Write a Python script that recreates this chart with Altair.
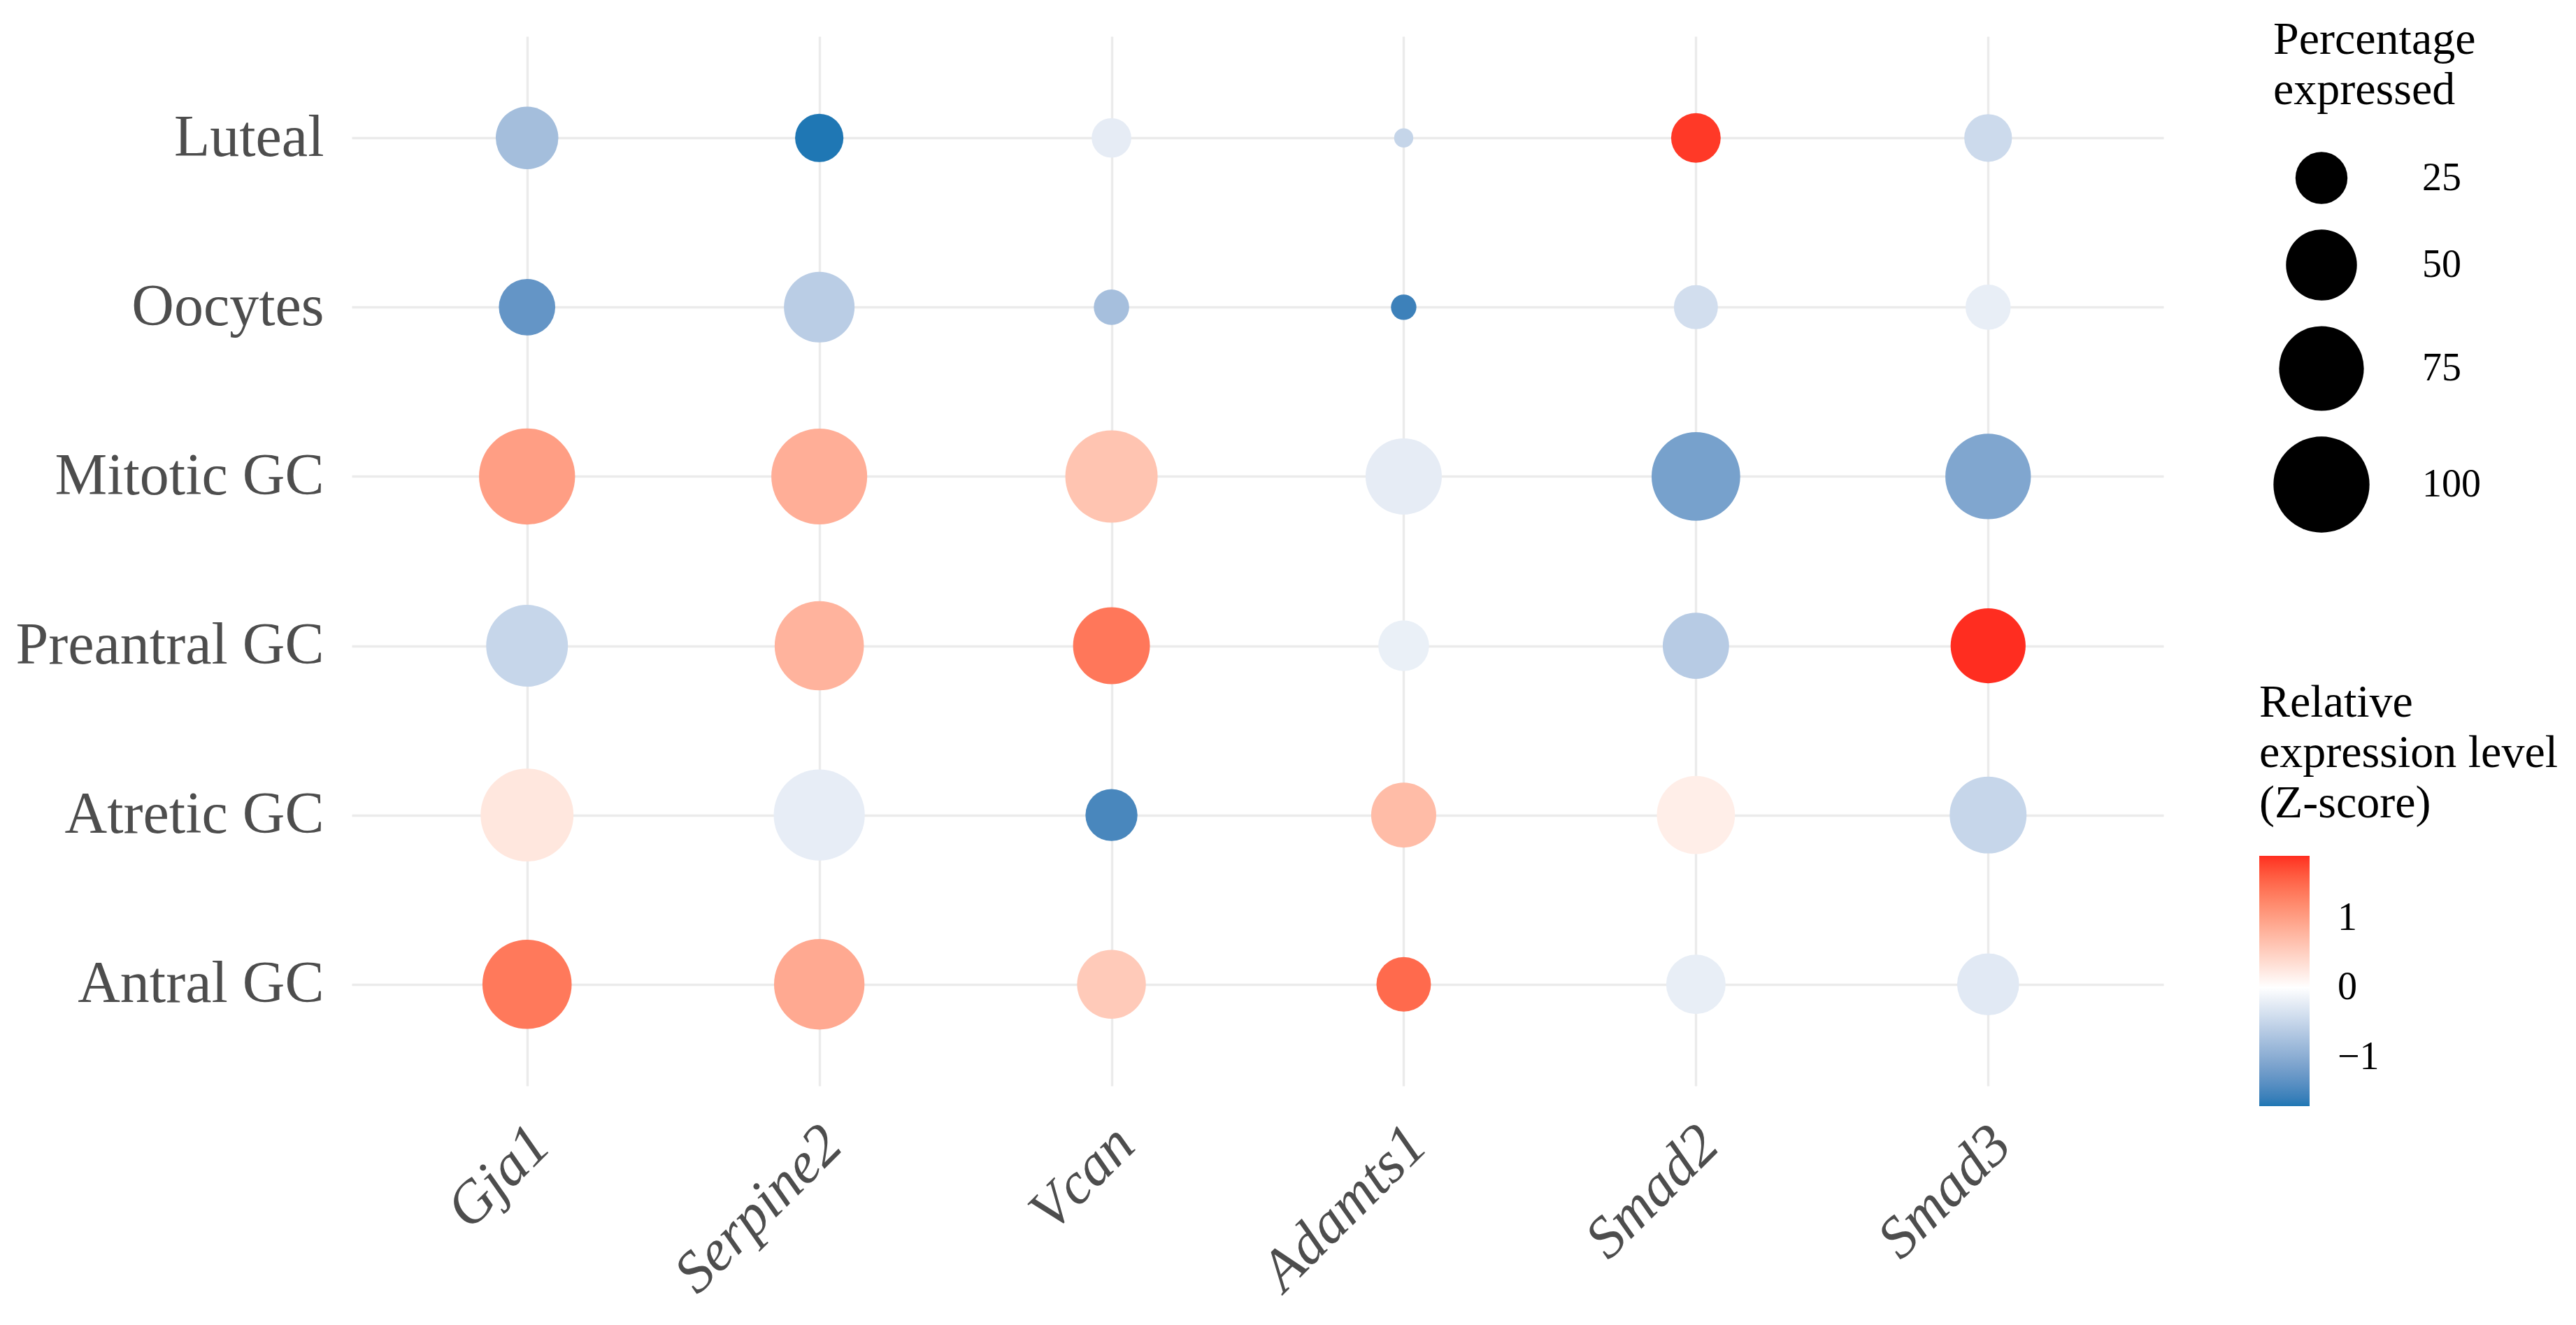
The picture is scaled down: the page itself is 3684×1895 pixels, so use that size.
import altair as alt
import pandas as pd

genes = ["Gja1", "Serpine2", "Vcan", "Adamts1", "Smad2", "Smad3"]
cells = ["Luteal", "Oocytes", "Mitotic GC", "Preantral GC", "Atretic GC", "Antral GC"]

# Percentage expressed, in the order of `cells`
pct_gja1 = [37.7, 29.9, 100.0, 69.1, 92.7, 84.4]
pct_serpine2 = [21.3, 49.5, 99.5, 84.4, 88.5, 87.1]
pct_vcan = [13.9, 11.0, 91.3, 60.0, 25.0, 46.6]
pct_adamts1 = [3.6, 5.8, 58.9, 23.7, 41.1, 27.7]
pct_smad2 = [22.5, 17.4, 83.1, 42.9, 62.2, 33.6]
pct_smad3 = [20.7, 18.4, 76.6, 56.7, 60.0, 36.9]

# Relative expression level (Z-score), in the order of `cells`
z_gja1 = [-0.79, -1.31, 1.01, -0.49, 0.26, 1.37]
z_serpine2 = [-1.71, -0.60, 0.85, 0.80, -0.21, 0.90]
z_vcan = [-0.22, -0.77, 0.63, 1.38, -1.50, 0.56]
z_adamts1 = [-0.50, -1.57, -0.22, -0.18, 0.71, 1.50]
z_smad2 = [1.84, -0.39, -1.16, -0.62, 0.18, -0.20]
z_smad3 = [-0.44, -0.20, -1.09, 1.90, -0.49, -0.26]

pct = dict(zip(genes, [pct_gja1, pct_serpine2, pct_vcan, pct_adamts1, pct_smad2, pct_smad3]))
zs = dict(zip(genes, [z_gja1, z_serpine2, z_vcan, z_adamts1, z_smad2, z_smad3]))

rows = []
for g in genes:
    for i, c in enumerate(cells):
        rows.append({"gene": g, "cell": c, "pct": pct[g][i], "z": zs[g][i]})
df = pd.DataFrame(rows)

FONT = "Liberation Serif, Times New Roman, serif"
AX = "#4D4D4D"

chart = alt.Chart(df).mark_circle(opacity=1, strokeWidth=0).encode(
    x=alt.X(
        "gene:N", sort=genes,
        scale=alt.Scale(type="point", padding=0.6),
        axis=alt.Axis(
            title=None, labelAngle=-45, labelAlign="right", labelBaseline="top",
            labelFontStyle="italic", labelFontSize=84, labelColor=AX, labelFont=FONT,
            labelPadding=42, labelOffset=-10, ticks=False, domain=False, grid=True,
            gridColor="#EBEBEB", gridWidth=3.4, labelLimit=1000,
        ),
    ),
    y=alt.Y(
        "cell:N", sort=cells,
        scale=alt.Scale(type="point", padding=0.6),
        axis=alt.Axis(
            title=None, labelFontSize=84, labelColor=AX, labelFont=FONT,
            labelPadding=40, ticks=False, domain=False, grid=True,
            gridColor="#EBEBEB", gridWidth=3.4, labelLimit=1000,
        ),
    ),
    size=alt.Size(
        "pct:Q",
        scale=alt.Scale(type="pow", exponent=0.85, domain=[0, 100], range=[-390, 18869]),
        legend=alt.Legend(
            title=["Percentage", "expressed"], values=[25, 50, 75, 100],
            orient="none", legendX=2748, legendY=-27,
            titleFont=FONT, titleFontSize=66, titleFontWeight="normal", titleColor="black",
            titleLineHeight=72, titlePadding=54, titleLimit=2000,
            labelFont=FONT, labelFontSize=56, labelColor="black", labelOffset=75,
            symbolType="circle", symbolFillColor="black", symbolStrokeWidth=0,
            symbolOpacity=1, rowPadding=36,
        ),
    ),
    color=alt.Color(
        "z:Q",
        scale=alt.Scale(domain=[-1.71, 0, 1.90], range=["#1F77B4", "#FFFFFF", "#FF2D20"],
                        interpolate="lab"),
        legend=alt.Legend(
            title=["Relative", "expression level", "(Z-score)"], values=[-1, 0, 1],
            format="d",
            orient="none", legendX=2728, legendY=921, direction="vertical",
            titleFont=FONT, titleFontSize=66, titleFontWeight="normal", titleColor="black",
            titleLineHeight=72, titlePadding=41, titleLimit=2000,
            labelFont=FONT, labelFontSize=56, labelColor="black", labelOffset=40,
            gradientLength=358, gradientThickness=72, gradientStrokeWidth=0,
        ),
    ),
).properties(
    width=2591, height=1501,
    autosize=alt.AutoSizeParams(type="none"),
    padding={"left": 495, "top": 44, "right": 582, "bottom": 334},
    background="white",
).configure_view(strokeWidth=0)

chart.save("out.html", embed_options={"renderer": "svg", "actions": False})
